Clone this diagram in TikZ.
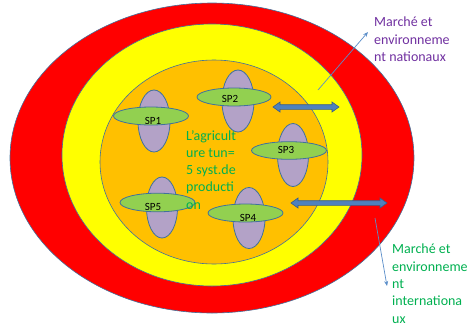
\documentclass[tikz,border=0pt]{standalone}
\usepackage{fontspec}
\setmainfont{Carlito}
\usetikzlibrary{arrows.meta,shapes.geometric}
\definecolor{cred}{HTML}{FF0000}
\definecolor{cyel}{HTML}{FFFF00}
\definecolor{corg}{HTML}{FFC000}
\definecolor{cpur}{HTML}{B3A2C7}
\definecolor{cgrn}{HTML}{92D050}
\definecolor{cline}{HTML}{41719C}
\definecolor{cbar}{HTML}{4F81BD}
\definecolor{cbarline}{HTML}{385D8A}
\definecolor{cthin}{HTML}{5B8EC9}
\definecolor{tpur}{HTML}{7030A0}
\definecolor{tgrn}{HTML}{00B050}
\tikzset{
  ring/.style={draw=cline,line width=0.6pt},
  vert/.style={draw=cline,line width=0.8pt,fill=cpur},
  horz/.style={draw=cline,line width=0.8pt,fill=cgrn},
  splabel/.style={font=\fontsize{11}{12}\selectfont,inner sep=0pt},
  arrfill/.style={fill=cbar,draw=cbarline,line width=0.6pt},
  thin/.style={draw=cthin,line width=0.7pt,-{Stealth[length=5pt,width=4pt]}},
  txt/.style={anchor=north west,align=left,inner sep=0pt,font=\fontsize{14}{17.3}\selectfont}
}
\newcommand\harrow[3]{\filldraw[arrfill] (#1,#3) -- ({#1+7},{#3-5}) -- ({#1+7},{#3-2.3}) -- ({#2-7},{#3-2.3}) -- ({#2-7},{#3-5}) -- (#2,#3) -- ({#2-7},{#3+5}) -- ({#2-7},{#3+2.3}) -- ({#1+7},{#3+2.3}) -- ({#1+7},{#3+5}) -- cycle;}
\begin{document}
\begin{tikzpicture}[x=1pt,y=-1pt]
\useasboundingbox (0,0) rectangle (469,325);
% rings
\draw[ring,fill=cred] (212,158) ellipse [x radius=202,y radius=155];
\draw[ring,fill=cyel] (212,155) ellipse [x radius=150,y radius=131];
\draw[ring,fill=corg] (214,162) ellipse [x radius=114,y radius=102];
% SP1
\draw[vert] (154,121) ellipse [x radius=16,y radius=31];
\draw[horz] (151,116) ellipse [x radius=37.5,y radius=9];
\node[splabel] (sp1) at (153,121) {SP1};
% SP2
\draw[vert] (238,101) ellipse [x radius=16,y radius=31];
\draw[horz] (234,97) ellipse [x radius=37,y radius=9];
\node[splabel] (sp2) at (230,99) {SP2};
% SP3
\draw[vert] (293,155) ellipse [x radius=15.5,y radius=31.5];
\draw[horz] (289,150.5) ellipse [x radius=37.5,y radius=8.8];
\node[splabel] (sp3) at (286,150) {SP3};
% SP5
\draw[vert] (162,207.5) ellipse [x radius=15.5,y radius=30.5];
\draw[horz] (157.5,202.5) ellipse [x radius=37.5,y radius=9.3];
\node[splabel] (sp5) at (153,207) {SP5};
% SP4
\draw[vert] (249,218) ellipse [x radius=16,y radius=30.5];
\draw[horz] (245.5,213) ellipse [x radius=37.5,y radius=9];
\node[splabel] (sp4) at (248,218) {SP4};
% centre text
\node[txt,text=tgrn] (agri) at (186,130) {L’agricult\\ure tun=\\5 syst.de\\producti\\on};
% thick double arrows
\harrow{273}{339}{107}
\harrow{291}{387}{203}
% thin arrows
\coordinate (n1) at (318,90);
\coordinate (n2) at (368,32);
\coordinate (i1) at (375,218);
\coordinate (i2) at (387,286);
\draw[thin] (n1) -- (n2);
\draw[thin] (i1) -- (i2);
% outer texts
\node[txt,text=tpur] (nat) at (374,17) {Marché et\\environneme\\nt nationaux};
\node[txt,text=tgrn] (int) at (392,244) {Marché et\\environneme\\nt\\internationa\\ux};
\end{tikzpicture}
\end{document}
